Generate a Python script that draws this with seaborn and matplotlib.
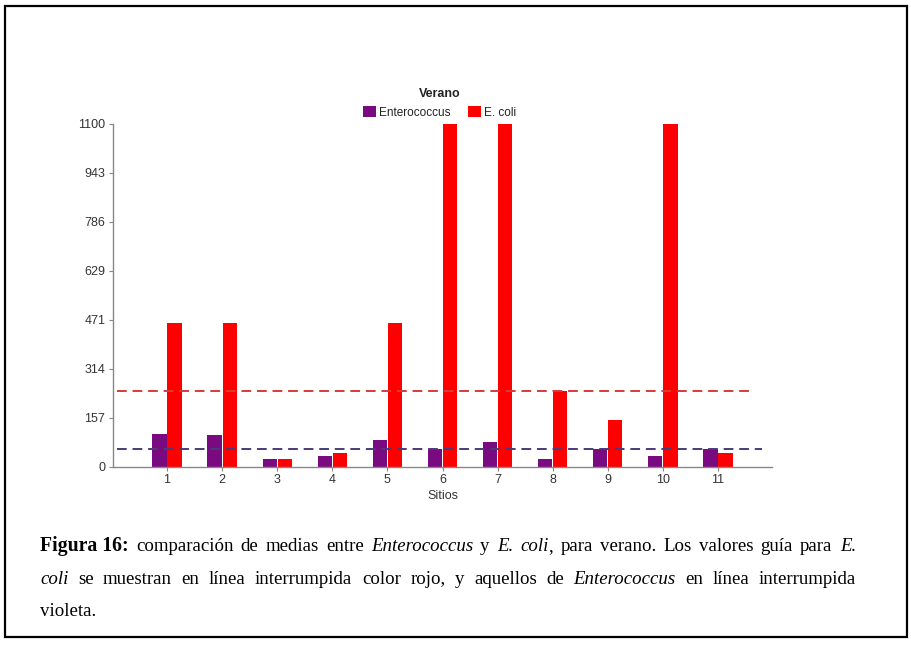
import matplotlib
matplotlib.use("Agg")
import matplotlib.pyplot as plt
import seaborn as sns
import pandas as pd
from matplotlib.patches import Rectangle

# Mean counts per sampling site, summer
sites = ["1", "2", "3", "4", "5", "6", "7", "8", "9", "10", "11"]
enterococcus = [104, 101, 24, 34, 84, 56, 78, 24, 55, 35, 55]
e_coli = [460, 460, 24, 44, 460, 1100, 1100, 242, 149, 1100, 44]
series_names = ["Enterococcus", "E. coli"]
guide_e_coli = 242
guide_enterococcus = 56
y_ticks = [0, 157, 314, 471, 629, 786, 943, 1100]

PURPLE = "#7a0a80"
RED = "#ff0000"

df = pd.DataFrame({
    "Sitios": sites * 2,
    "valor": enterococcus + e_coli,
    "serie": [series_names[0]] * len(sites) + [series_names[1]] * len(sites),
})

sns.set_theme(style="white")
plt.rcParams["font.family"] = ["Liberation Sans", "DejaVu Sans"]

W, H = 911, 645
fig = plt.figure(figsize=(W / 100, H / 100), dpi=100)
ax = fig.add_axes([113 / W, 1 - 466.5 / H, 659 / W, 342.5 / H])

sns.barplot(data=df, x="Sitios", y="valor", hue="serie", order=sites,
            hue_order=series_names, palette=[PURPLE, RED],
            width=0.55, gap=0.06, saturation=1, ax=ax, linewidth=0)

# Guide values drawn as dashed horizontal lines
ax.hlines(guide_e_coli, -0.9, 10.6, colors="#d83a3a", linestyles=(0, (5, 3)), linewidth=1.4, zorder=3)
ax.hlines(guide_enterococcus, -0.9, 10.8, colors="#4b3a7a", linestyles=(0, (5, 3)), linewidth=1.4, zorder=3)

ax.set_xlim(-0.98, 10.98)
ax.set_ylim(0, 1100)
ax.set_yticks(y_ticks)
ax.set_yticklabels([str(v) for v in y_ticks])
ax.set_ylabel("")
ax.set_xlabel("Sitios", fontsize=9, color="#333333", labelpad=3)

for side in ["top", "right"]:
    ax.spines[side].set_visible(False)
for side in ["left", "bottom"]:
    ax.spines[side].set_color("#888888")
    ax.spines[side].set_linewidth(1.0)
ax.tick_params(axis="both", which="major", length=3, width=0.8, color="#888888",
               labelsize=9, labelcolor="#333333", pad=2.5, left=True, bottom=True)

sns.move_legend(ax, "lower center", bbox_to_anchor=(0.496, 0.995), ncol=2,
                title="Verano", frameon=False, fontsize=8.5, title_fontsize=9,
                handlelength=1.1, handleheight=1.1, handletextpad=0.25,
                columnspacing=1.5, borderaxespad=0.2)
leg = ax.get_legend()
leg.get_title().set_fontweight("bold")
leg.get_title().set_color("#222222")
for t in leg.get_texts():
    t.set_color("#222222")

# Outer frame
fig.patches.append(Rectangle((5 / W, 1 - 637 / H), 902 / W, 631 / H,
                             transform=fig.transFigure, fill=False,
                             edgecolor="black", linewidth=1.6))

# Caption with mixed bold / italic segments, justified lines
caption_lines = [
    [[("Figura 16:", "bold", "normal")], [("comparación", "normal", "normal")],
     [("de", "normal", "normal")], [("medias", "normal", "normal")],
     [("entre", "normal", "normal")], [("Enterococcus", "normal", "italic")],
     [("y", "normal", "normal")], [("E.", "normal", "italic")],
     [("coli", "normal", "italic"), (",", "normal", "normal")],
     [("para", "normal", "normal")], [("verano.", "normal", "normal")],
     [("Los", "normal", "normal")], [("valores", "normal", "normal")],
     [("guía", "normal", "normal")], [("para", "normal", "normal")],
     [("E.", "normal", "italic")]],
    [[("coli", "normal", "italic")], [("se", "normal", "normal")],
     [("muestran", "normal", "normal")], [("en", "normal", "normal")],
     [("línea", "normal", "normal")], [("interrumpida", "normal", "normal")],
     [("color", "normal", "normal")], [("rojo,", "normal", "normal")],
     [("y", "normal", "normal")], [("aquellos", "normal", "normal")],
     [("de", "normal", "normal")], [("Enterococcus", "normal", "italic")],
     [("en", "normal", "normal")], [("línea", "normal", "normal")],
     [("interrumpida", "normal", "normal")]],
    [[("violeta.", "normal", "normal")]],
]
justify = [True, True, False]
baselines = [551, 583.5, 616]
x_left, x_right = 40, 856
cap_fs = 13.6
bold_fs = 14.2
cap_family = ["Liberation Serif", "DejaVu Serif"]

renderer = fig.canvas.get_renderer()


def size_for(weight):
    return bold_fs if weight == "bold" else cap_fs


def seg_width(text, weight, style):
    t = fig.text(0, 0, text, fontsize=size_for(weight), family=cap_family,
                 fontweight=weight, fontstyle=style)
    w = t.get_window_extent(renderer).width
    t.remove()
    return w


space_w = seg_width("a a", "normal", "normal") - seg_width("aa", "normal", "normal")

for words, just, base in zip(caption_lines, justify, baselines):
    widths = [[seg_width(*s) for s in word] for word in words]
    totals = [sum(w) for w in widths]
    if just and len(words) > 1:
        gap = (x_right - x_left - sum(totals)) / (len(words) - 1)
    else:
        gap = space_w
    x = x_left
    for word, ws in zip(words, widths):
        for (text, weight, style), w in zip(word, ws):
            fig.text(x / W, 1 - base / H, text, fontsize=size_for(weight),
                     family=cap_family, fontweight=weight, fontstyle=style,
                     color="black", ha="left", va="baseline")
            x += w
        x += gap

fig.savefig("out.png", dpi=100)
